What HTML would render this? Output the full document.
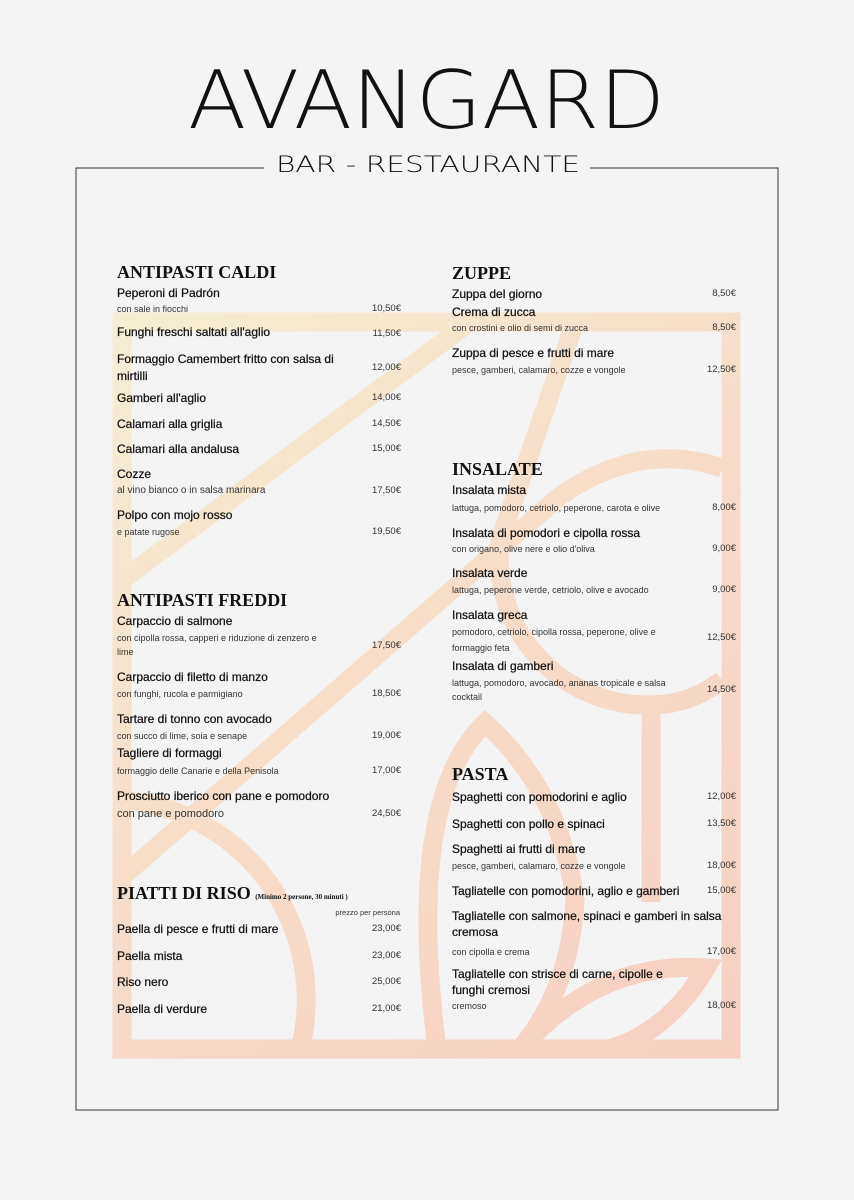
<!DOCTYPE html>
<html><head><meta charset="utf-8"><style>
body{margin:0;background:#f4f4f4;}
#p{position:relative;width:854px;height:1200px;overflow:hidden;background:#f4f4f4;font-family:"Liberation Sans",sans-serif;color:#111;}
.t{position:absolute;white-space:nowrap;line-height:14px;}
.n{font-size:12px;color:#111;-webkit-text-stroke:0.25px #111;}
.s{font-size:9px;color:#333;}
.pr{font-size:9.5px;color:#333;text-align:right;width:80px;}
.h{position:absolute;font-family:"Liberation Serif",serif;font-weight:bold;font-size:18px;line-height:20px;color:#111;white-space:nowrap;}
</style></head><body><div id="p">
<svg width="854" height="1200" style="position:absolute;left:0;top:0">
<defs><linearGradient id="g" x1="113" y1="313" x2="741" y2="1058" gradientUnits="userSpaceOnUse">
<stop offset="0" stop-color="#f6eed2"/><stop offset="0.5" stop-color="#f6dcc8"/><stop offset="1" stop-color="#f7cfc3"/></linearGradient></defs>
<g fill="none" stroke="url(#g)" stroke-width="19">
<rect x="122" y="322" width="609" height="727"/>
<path d="M122,580 L470,322"/>
<path d="M122,877 L560,496 Q640,440 722,468"/>
<path d="M575,322 L500,540 A148 148 0 0 0 651,705 Q690,705 722,680"/>
<path d="M651,700 L651,902"/>
<path d="M120,800 A200 200 0 0 1 300,1049"/>
<path d="M437,1049 Q405,800 485,723 Q560,790 575,900 Q570,990 520,1049"/>
<path d="M520,1049 Q600,960 706,968 Q670,1030 610,1049"/>
</g>
<rect x="76" y="168" width="702" height="942" fill="none" stroke="#333" stroke-width="1"/>
<rect x="264" y="150" width="326" height="30" fill="#f4f4f4"/>
<text x="188" y="128" font-family="DejaVu Sans" font-weight="200" font-size="80" fill="#111" textLength="477" lengthAdjust="spacingAndGlyphs">AVANGARD</text>
<text x="276" y="172" font-family="DejaVu Sans" font-weight="200" font-size="22" fill="#111" textLength="304" lengthAdjust="spacingAndGlyphs">BAR - RESTAURANTE</text>
</svg>

<div class="h" style="left:117px;top:262px">ANTIPASTI CALDI</div>
<div class="t n" style="left:117px;top:286px">Peperoni di Padrón</div>
<div class="t s" style="left:117px;top:302px">con sale in fiocchi</div><div class="t pr" style="left:321px;top:302px">10,50€</div>
<div class="t n" style="left:117px;top:325px">Funghi freschi saltati all'aglio</div><div class="t pr" style="left:321px;top:327px">11,50€</div>
<div class="t n" style="left:117px;top:352px">Formaggio Camembert fritto con salsa di</div>
<div class="t n" style="left:117px;top:369px">mirtilli</div><div class="t pr" style="left:321px;top:361px">12,00€</div>
<div class="t n" style="left:117px;top:391px">Gamberi all'aglio</div><div class="t pr" style="left:321px;top:391px">14,00€</div>
<div class="t n" style="left:117px;top:417px">Calamari alla griglia</div><div class="t pr" style="left:321px;top:417px">14,50€</div>
<div class="t n" style="left:117px;top:442px">Calamari alla andalusa</div><div class="t pr" style="left:321px;top:442px">15,00€</div>
<div class="t n" style="left:117px;top:467px">Cozze</div>
<div class="t s" style="left:117px;top:484px;font-size:10px">al vino bianco o in salsa marinara</div><div class="t pr" style="left:321px;top:484px">17,50€</div>
<div class="t n" style="left:117px;top:508px">Polpo con mojo rosso</div>
<div class="t s" style="left:117px;top:525px">e patate rugose</div><div class="t pr" style="left:321px;top:525px">19,50€</div>

<div class="h" style="left:117px;top:590px">ANTIPASTI FREDDI</div>
<div class="t n" style="left:117px;top:614px">Carpaccio di salmone</div>
<div class="t s" style="left:117px;top:631px">con cipolla rossa, capperi e riduzione di zenzero e</div>
<div class="t s" style="left:117px;top:645px">lime</div><div class="t pr" style="left:321px;top:639px">17,50€</div>
<div class="t n" style="left:117px;top:670px">Carpaccio di filetto di manzo</div>
<div class="t s" style="left:117px;top:687px">con funghi, rucola e parmigiano</div><div class="t pr" style="left:321px;top:687px">18,50€</div>
<div class="t n" style="left:117px;top:712px">Tartare di tonno con avocado</div>
<div class="t s" style="left:117px;top:729px">con succo di lime, soia e senape</div><div class="t pr" style="left:321px;top:729px">19,00€</div>
<div class="t n" style="left:117px;top:746px">Tagliere di formaggi</div>
<div class="t s" style="left:117px;top:764px">formaggio delle Canarie e della Penisola</div><div class="t pr" style="left:321px;top:764px">17,00€</div>
<div class="t n" style="left:117px;top:789px">Prosciutto iberico con pane e pomodoro</div>
<div class="t s" style="left:117px;top:807px;font-size:11px">con pane e pomodoro</div><div class="t pr" style="left:321px;top:807px">24,50€</div>

<div class="h" style="left:117px;top:883px">PIATTI DI RISO <span style="font-size:7px">(Minimo 2 persone, 30 minuti )</span></div>
<div class="t s" style="left:300px;top:906px;width:100px;text-align:right;font-size:7.5px">prezzo per persona</div>
<div class="t n" style="left:117px;top:922px">Paella di pesce e frutti di mare</div><div class="t pr" style="left:321px;top:922px">23,00€</div>
<div class="t n" style="left:117px;top:949px">Paella mista</div><div class="t pr" style="left:321px;top:949px">23,00€</div>
<div class="t n" style="left:117px;top:975px">Riso nero</div><div class="t pr" style="left:321px;top:975px">25,00€</div>
<div class="t n" style="left:117px;top:1002px">Paella di verdure</div><div class="t pr" style="left:321px;top:1002px">21,00€</div>

<div class="h" style="left:452px;top:263px">ZUPPE</div>
<div class="t n" style="left:452px;top:287px">Zuppa del giorno</div><div class="t pr" style="left:656px;top:287px">8,50€</div>
<div class="t n" style="left:452px;top:305px">Crema di zucca</div>
<div class="t s" style="left:452px;top:321px">con crostini e olio di semi di zucca</div><div class="t pr" style="left:656px;top:321px">8,50€</div>
<div class="t n" style="left:452px;top:346px">Zuppa di pesce e frutti di mare</div>
<div class="t s" style="left:452px;top:363px">pesce, gamberi, calamaro, cozze e vongole</div><div class="t pr" style="left:656px;top:363px">12,50€</div>

<div class="h" style="left:452px;top:459px">INSALATE</div>
<div class="t n" style="left:452px;top:483px">Insalata mista</div>
<div class="t s" style="left:452px;top:501px">lattuga, pomodoro, cetriolo, peperone, carota e olive</div><div class="t pr" style="left:656px;top:501px">8,00€</div>
<div class="t n" style="left:452px;top:526px">Insalata di pomodori e cipolla rossa</div>
<div class="t s" style="left:452px;top:542px">con origano, olive nere e olio d'oliva</div><div class="t pr" style="left:656px;top:542px">9,00€</div>
<div class="t n" style="left:452px;top:566px">Insalata verde</div>
<div class="t s" style="left:452px;top:583px">lattuga, peperone verde, cetriolo, olive e avocado</div><div class="t pr" style="left:656px;top:583px">9,00€</div>
<div class="t n" style="left:452px;top:608px">Insalata greca</div>
<div class="t s" style="left:452px;top:625px">pomodoro, cetriolo, cipolla rossa, peperone, olive e</div>
<div class="t s" style="left:452px;top:641px">formaggio feta</div><div class="t pr" style="left:656px;top:631px">12,50€</div>
<div class="t n" style="left:452px;top:659px">Insalata di gamberi</div>
<div class="t s" style="left:452px;top:676px">lattuga, pomodoro, avocado, ananas tropicale e salsa</div>
<div class="t s" style="left:452px;top:690px">cocktail</div><div class="t pr" style="left:656px;top:683px">14,50€</div>

<div class="h" style="left:452px;top:764px">PASTA</div>
<div class="t n" style="left:452px;top:790px">Spaghetti con pomodorini e aglio</div><div class="t pr" style="left:656px;top:790px">12,00€</div>
<div class="t n" style="left:452px;top:817px">Spaghetti con pollo e spinaci</div><div class="t pr" style="left:656px;top:817px">13,50€</div>
<div class="t n" style="left:452px;top:842px">Spaghetti ai frutti di mare</div>
<div class="t s" style="left:452px;top:859px">pesce, gamberi, calamaro, cozze e vongole</div><div class="t pr" style="left:656px;top:859px">18,00€</div>
<div class="t n" style="left:452px;top:884px">Tagliatelle con pomodorini, aglio e gamberi</div><div class="t pr" style="left:656px;top:884px">15,00€</div>
<div class="t n" style="left:452px;top:909px">Tagliatelle con salmone, spinaci e gamberi in salsa</div>
<div class="t n" style="left:452px;top:925px">cremosa</div>
<div class="t s" style="left:452px;top:945px">con cipolla e crema</div><div class="t pr" style="left:656px;top:945px">17,00€</div>
<div class="t n" style="left:452px;top:967px">Tagliatelle con strisce di carne, cipolle e</div>
<div class="t n" style="left:452px;top:983px">funghi cremosi</div>
<div class="t s" style="left:452px;top:999px">cremoso</div><div class="t pr" style="left:656px;top:999px">18,00€</div>
</div></body></html>
